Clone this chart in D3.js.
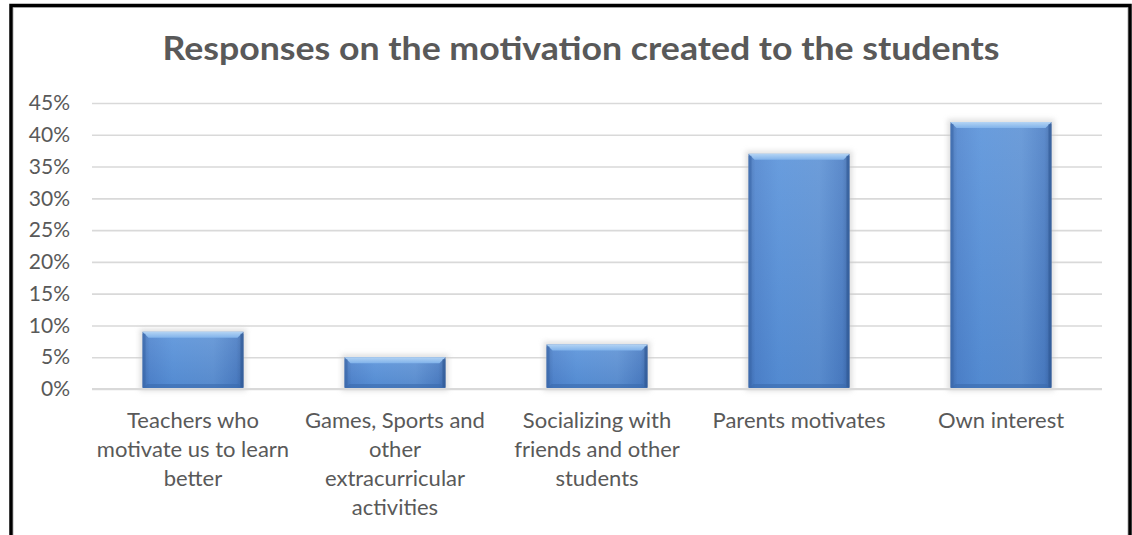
<!DOCTYPE html>
<html>
<head>
<meta charset="utf-8">
<script src="https://cdn.jsdelivr.net/npm/d3@7"></script>
<style>
  html, body { margin: 0; padding: 0; background: #fff; }
  svg { display: block; }
</style>
</head>
<body>
<svg id="chart" width="1132" height="535"></svg>
<script>
// Survey responses: share of students naming each source of motivation
const categories = [
  "Teachers who motivate us to learn better",
  "Games, Sports and other extracurricular activities",
  "Socializing with friends and other students",
  "Parents motivates",
  "Own interest"
];
const categoryLines = [
  ["Teachers who", "motivate us to learn", "better"],
  ["Games, Sports and", "other", "extracurricular", "activities"],
  ["Socializing with", "friends and other", "students"],
  ["Parents motivates"],
  ["Own interest"]
];
const values = [0.09, 0.05, 0.07, 0.37, 0.42];
const yTicks = [0, 0.05, 0.10, 0.15, 0.20, 0.25, 0.30, 0.35, 0.40, 0.45];
const titleText = "Responses on the motivation created to the students";

const svg = d3.select("#chart");
const W = 1132, H = 535;
const textColor = "#595959";
const font = "Lato, 'Open Sans', sans-serif";

svg.append("rect").attr("x", 0).attr("y", 0).attr("width", W).attr("height", H).attr("fill", "#fff");

const defs = svg.append("defs");
const grad = defs.append("linearGradient").attr("id", "barFill")
  .attr("x1", "0").attr("x2", "1").attr("y1", "0").attr("y2", "0");
grad.append("stop").attr("offset", "0%").attr("stop-color", "#3f6fb4");
grad.append("stop").attr("offset", "7%").attr("stop-color", "#4f85cf");
grad.append("stop").attr("offset", "30%").attr("stop-color", "#5892da");
grad.append("stop").attr("offset", "70%").attr("stop-color", "#5d92d5");
grad.append("stop").attr("offset", "93%").attr("stop-color", "#4b7ec5");
grad.append("stop").attr("offset", "100%").attr("stop-color", "#3a67a8");

const vgrad = defs.append("linearGradient").attr("id", "barShade")
  .attr("x1", "0").attr("x2", "0").attr("y1", "0").attr("y2", "1");
vgrad.append("stop").attr("offset", "0%").attr("stop-color", "#ffffff").attr("stop-opacity", 0.1);
vgrad.append("stop").attr("offset", "100%").attr("stop-color", "#1f3f7a").attr("stop-opacity", 0.1);

const bevel = defs.append("linearGradient").attr("id", "bevelTop")
  .attr("x1", "0").attr("x2", "0").attr("y1", "0").attr("y2", "1");
bevel.append("stop").attr("offset", "0%").attr("stop-color", "#b4d4f4");
bevel.append("stop").attr("offset", "100%").attr("stop-color", "#80b2ea");

const shadow = defs.append("filter").attr("id", "shadow")
  .attr("x", "-20%").attr("y", "-20%").attr("width", "140%").attr("height", "140%");
shadow.append("feGaussianBlur").attr("stdDeviation", 2.5);

// Scales
const x = d3.scaleBand().domain(categories).range([92, 1102]).paddingInner(0.5).paddingOuter(0.25);
const y = d3.scaleLinear().domain([0, 0.45]).range([389, 103]);

// Gridlines and y-axis labels
const yAxis = d3.axisLeft(y).tickValues(yTicks).tickFormat(d3.format(".0%"))
  .tickSize(-(1102 - 92)).tickPadding(22);
const gy = svg.append("g").attr("transform", "translate(92,0)").call(yAxis);
gy.select(".domain").remove();
gy.selectAll(".tick line").attr("stroke", "#d9d9d9").attr("stroke-width", 1.6);
gy.selectAll(".tick text").attr("fill", textColor).attr("font-family", font)
  .attr("font-size", 21).attr("x", -22);

// Bars
const bars = svg.append("g").selectAll("g").data(categories).join("g");
bars.append("rect")
  .attr("x", d => x(d) - 3)
  .attr("y", (d, i) => y(values[i]) - 3)
  .attr("width", x.bandwidth() + 6)
  .attr("height", (d, i) => y(0) - y(values[i]) + 5)
  .attr("fill", "#c8c8c8").attr("opacity", 0.55)
  .attr("filter", "url(#shadow)");
bars.append("rect")
  .attr("x", d => x(d))
  .attr("y", (d, i) => y(values[i]))
  .attr("width", x.bandwidth())
  .attr("height", (d, i) => y(0) - y(values[i]))
  .attr("fill", "url(#barFill)");
bars.append("rect")
  .attr("x", d => x(d))
  .attr("y", (d, i) => y(values[i]))
  .attr("width", x.bandwidth())
  .attr("height", (d, i) => y(0) - y(values[i]))
  .attr("fill", "url(#barShade)");
// Top bevel
bars.append("path")
  .attr("d", (d, i) => {
    const x0 = x(d), x1 = x(d) + x.bandwidth(), t = y(values[i]), b = 6;
    return `M${x0},${t} L${x1},${t} L${x1 - b},${t + b} L${x0 + b},${t + b} Z`;
  })
  .attr("fill", "url(#bevelTop)");
// Bottom bevel
bars.append("path")
  .attr("d", d => {
    const x0 = x(d), x1 = x(d) + x.bandwidth(), bt = y(0), b = 5;
    return `M${x0},${bt} L${x1},${bt} L${x1 - b},${bt - b} L${x0 + b},${bt - b} Z`;
  })
  .attr("fill", "#3b6aae").attr("opacity", 0.6);
// Side edges
bars.append("rect")
  .attr("x", d => x(d))
  .attr("y", (d, i) => y(values[i]) + 2)
  .attr("width", 3)
  .attr("height", (d, i) => y(0) - y(values[i]) - 4)
  .attr("fill", "#3a68aa").attr("opacity", 0.55);
bars.append("rect")
  .attr("x", d => x(d) + x.bandwidth() - 3)
  .attr("y", (d, i) => y(values[i]) + 2)
  .attr("width", 3)
  .attr("height", (d, i) => y(0) - y(values[i]) - 4)
  .attr("fill", "#2f5894").attr("opacity", 0.6);

// Baseline
svg.append("line").attr("x1", 92).attr("x2", 1102).attr("y1", y(0)).attr("y2", y(0))
  .attr("stroke", "#d9d9d9").attr("stroke-width", 2);

// Category labels
const labels = svg.append("g").selectAll("text").data(categories).join("text")
  .attr("x", d => x(d) + x.bandwidth() / 2)
  .attr("y", 428)
  .attr("text-anchor", "middle")
  .attr("fill", textColor).attr("font-family", font).attr("font-size", 22);
labels.selectAll("tspan").data((d, i) => categoryLines[i]).join("tspan")
  .attr("x", function () { return this.parentNode.getAttribute("x"); })
  .attr("dy", (d, j) => j === 0 ? 0 : 29)
  .text(d => d);

// Title
svg.append("text")
  .attr("x", 581).attr("y", 60)
  .attr("text-anchor", "middle")
  .attr("fill", textColor).attr("font-family", font)
  .attr("font-weight", "bold").attr("font-size", 32)
  .attr("textLength", 837).attr("lengthAdjust", "spacingAndGlyphs")
  .text(titleText);

// Frame
svg.append("rect").attr("x", 13.5).attr("y", 7.5).attr("width", 1114).attr("height", 540)
  .attr("fill", "none").attr("stroke", "#d9d9d9").attr("stroke-width", 1);
svg.append("path").attr("d", "M11,540 L11,5.5 L1130,5.5 L1130,540")
  .attr("fill", "none").attr("stroke", "#000").attr("stroke-width", 3.5);
</script>
</body>
</html>
